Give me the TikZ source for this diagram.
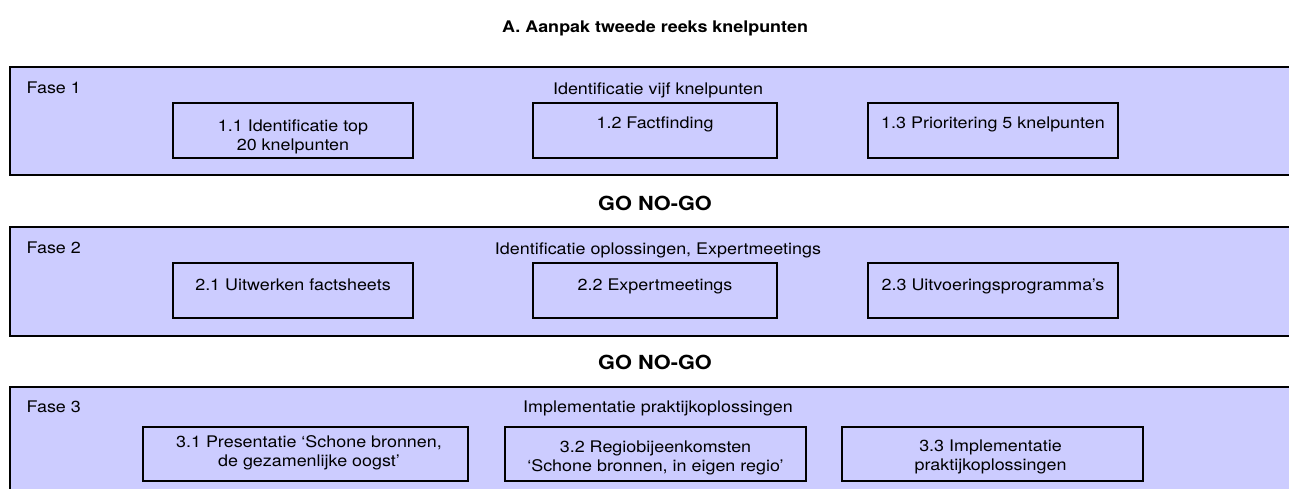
\documentclass[tikz,border=0pt]{standalone}
\usepackage{fontspec}
\setmainfont[FakeStretch=1.12]{TeX Gyre Heros}
\definecolor{bandfill}{HTML}{CCCCFF}
\begin{document}
\begin{tikzpicture}[x=1pt,y=-1pt,
  band/.style={draw=black, line width=1.2pt, fill=bandfill, rectangle, inner sep=0pt, outer sep=0pt, anchor=north west, minimum width=1320pt},
  taskbox/.style={draw=black, line width=1.3pt, fill=bandfill, rectangle, inner sep=0pt, outer sep=0pt, anchor=north west, minimum height=55pt},
  txt/.style={inner sep=0pt, outer sep=0pt, font=\fontsize{16}{19}\selectfont},
  gotxt/.style={inner sep=0pt, outer sep=0pt, anchor=base, font=\fontsize{19.4}{22}\selectfont\bfseries},
  titletxt/.style={inner sep=0pt, outer sep=0pt, anchor=base, font=\fontsize{16}{18}\selectfont\bfseries}
]
\clip (0,0) rectangle (1289,488);
\fill[white] (0,0) rectangle (1289,488);

\node[titletxt] (title) at (655,32) {A. Aanpak tweede reeks knelpunten};

% Fase 1
\node[band, minimum height=108pt] (band1) at (10,67) {};
\node[txt, anchor=base west] (f1) at (26.7,93.5) {Fase 1};
\node[txt, anchor=base] (t1) at (658,94) {Identificatie vijf knelpunten};
\node[taskbox, minimum width=240pt] (b11) at (173,103) {};
\node[taskbox, minimum width=244pt] (b12) at (533,103) {};
\node[taskbox, minimum width=250pt] (b13) at (868,103) {};
\node[txt, align=center, anchor=north] (l11) at (293,119.3) {1.1 Identificatie top\\20 knelpunten};
\node[txt, anchor=base] (l12) at (b12.north |- 0,128.3) {1.2 Factfinding};
\node[txt, anchor=base] (l13) at (b13.north |- 0,128.3) {1.3 Prioritering 5 knelpunten};

\node[gotxt] (go1) at (655,210) {GO NO-GO};

% Fase 2
\node[band, minimum height=109pt] (band2) at (10,227) {};
\node[txt, anchor=base west] (f2) at (26.7,253) {Fase 2};
\node[txt, anchor=base] (t2) at (658,254) {Identificatie oplossingen, Expertmeetings};
\node[taskbox, minimum width=240pt] (b21) at (173,263) {};
\node[taskbox, minimum width=244pt] (b22) at (533,263) {};
\node[taskbox, minimum width=250pt] (b23) at (868,263) {};
\node[txt, anchor=base] (l21) at (b21.north |- 0,290) {2.1 Uitwerken factsheets};
\node[txt, anchor=base] (l22) at (b22.north |- 0,290) {2.2 Expertmeetings};
\node[txt, anchor=base] (l23) at (b23.north |- 0,290) {2.3 Uitvoeringsprogramma’s};

\node[gotxt] (go2) at (655,369) {GO NO-GO};

% Fase 3
\node[band, minimum height=130pt] (band3) at (10,387) {};
\node[txt, anchor=base west] (f3) at (26.7,412.7) {Fase 3};
\node[txt, anchor=base] (t3) at (658,412.7) {Implementatie praktijkoplossingen};
\node[taskbox, minimum width=325pt, minimum height=54pt] (b31) at (143,427) {};
\node[taskbox, minimum width=301pt, minimum height=54pt] (b32) at (505,427) {};
\node[taskbox, minimum width=301pt, minimum height=54pt] (b33) at (842,427) {};
\node[txt, align=center, anchor=north] (l31) at (309,435.5) {3.1 Presentatie ‘Schone bronnen,\\de gezamenlijke oogst’};
\node[txt, align=center, anchor=north] (l32) at (655.5,440.8) {3.2 Regiobijeenkomsten\\‘Schone bronnen, in eigen regio’};
\node[txt, align=center, anchor=north] (l33) at (990.5,439.8) {3.3 Implementatie\\praktijkoplossingen};
\end{tikzpicture}
\end{document}
